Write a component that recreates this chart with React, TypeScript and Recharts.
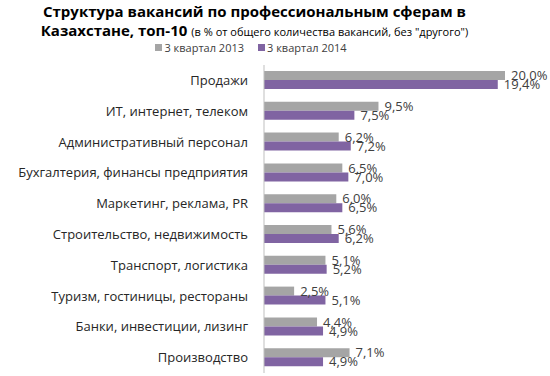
import { Bar, BarChart, LabelList, XAxis, YAxis } from "recharts";

const categories = [
  "Продажи",
  "ИТ, интернет, телеком",
  "Административный персонал",
  "Бухгалтерия, финансы предприятия",
  "Маркетинг, реклама, PR",
  "Строительство, недвижимость",
  "Транспорт, логистика",
  "Туризм, гостиницы, рестораны",
  "Банки, инвестиции, лизинг",
  "Производство",
];
const q3of2013 = [20.0, 9.5, 6.2, 6.5, 6.0, 5.6, 5.1, 2.5, 4.4, 7.1];
const q3of2014 = [19.4, 7.5, 7.2, 7.0, 6.5, 6.2, 5.2, 5.1, 4.9, 4.9];
const seriesNames = ["3 квартал 2013", "3 квартал 2014"];

const GRAY = "#a5a5a5";
const PURPLE = "#8064a2";
const FONT = "'Open Sans', 'DejaVu Sans', sans-serif";

const data = categories.map((name, i) => ({
  name,
  y2013: q3of2013[i],
  y2014: q3of2014[i],
}));

const fmt = (v: number) => `${v.toFixed(1).replace(".", ",")}%`;

function App() {
  return (
    <div
      style={{
        position: "absolute",
        left: 0,
        top: 0,
        width: 550,
        height: 376,
        background: "#fff",
        fontFamily: FONT,
        color: "#000",
      }}
    >
      <div
        style={{
          position: "absolute",
          top: 2,
          left: 0,
          width: 509,
          textAlign: "center",
          fontWeight: 700,
          fontSize: 15,
          lineHeight: "19px",
        }}
      >
        Структура вакансий по профессиональным сферам в
        <br />
        Казахстане, топ-10{" "}
        <span style={{ fontWeight: 400, fontSize: 11 }}>
          (в % от общего количества вакансий, без "другого")
        </span>
      </div>
      <div
        style={{
          position: "absolute",
          top: 40,
          left: 0,
          width: 502,
          display: "flex",
          justifyContent: "center",
          gap: 14,
          fontSize: 11,
          color: "#404040",
        }}
      >
        {seriesNames.map((s, i) => (
          <span key={s} style={{ display: "flex", alignItems: "center" }}>
            <span
              style={{
                display: "inline-block",
                width: 7,
                height: 7,
                background: i === 0 ? GRAY : PURPLE,
                marginRight: 2,
              }}
            />
            {s}
          </span>
        ))}
      </div>
      <div style={{ position: "absolute", left: 0, top: 0 }}>
        <BarChart
          width={550}
          height={376}
          data={data}
          layout="vertical"
          margin={{ top: 65, right: 45, bottom: 3, left: 0 }}
          barGap={0}
          barSize={9}
        >
          <XAxis type="number" domain={[0, 20]} hide />
          <YAxis
            type="category"
            dataKey="name"
            width={264}
            axisLine={{ stroke: "#bfbfbf" }}
            tickLine={false}
            tickMargin={10}
            tick={{ fill: "#262626", fontSize: 13, fontFamily: FONT }}
            interval={0}
          />
          <Bar dataKey="y2013" fill={GRAY} isAnimationActive={false}>
            <LabelList
              dataKey="y2013"
              position="right"
              offset={6}
              formatter={(v: number) => fmt(v)}
              style={{ fill: "#404040", fontSize: 13, fontFamily: FONT }}
            />
          </Bar>
          <Bar dataKey="y2014" fill={PURPLE} isAnimationActive={false}>
            <LabelList
              dataKey="y2014"
              position="right"
              offset={6}
              formatter={(v: number) => fmt(v)}
              style={{ fill: "#404040", fontSize: 13, fontFamily: FONT }}
            />
          </Bar>
        </BarChart>
      </div>
    </div>
  );
}

export default App;
